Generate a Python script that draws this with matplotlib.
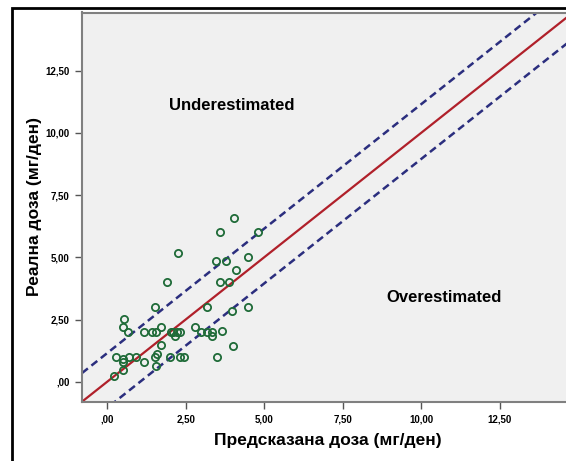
import matplotlib.pyplot as plt
from matplotlib.patches import Rectangle

plt.rcParams['font.family'] = ['Liberation Sans', 'DejaVu Sans']

predicted = [4.03, 3.60, 4.80, 2.26, 3.47, 3.78, 4.47, 4.09, 1.92, 3.60, 3.88,
             1.52, 3.18, 4.50, 3.97, 0.53, 0.49, 0.65, 1.16, 1.42, 1.56, 1.72,
             2.03, 2.11, 2.16, 2.22, 2.32, 2.79, 2.98, 3.18, 3.35, 3.35, 3.65,
             1.70, 4.00, 0.28, 0.50, 0.50, 0.70, 0.91, 1.16, 1.52, 1.59, 1.57,
             2.01, 2.32, 2.45, 3.50, 0.50, 0.21]
real = [6.59, 6.01, 6.01, 5.16, 4.86, 4.86, 5.01, 4.50, 4.00, 4.00, 4.00,
        3.00, 3.00, 3.00, 2.85, 2.51, 2.20, 1.98, 1.98, 1.98, 1.98, 2.20,
        1.98, 1.98, 1.84, 1.98, 1.98, 2.20, 1.98, 1.98, 1.98, 1.84, 2.05,
        1.49, 1.42, 0.98, 0.91, 0.78, 0.98, 0.98, 0.78, 0.98, 1.12, 0.64,
        0.98, 0.98, 0.98, 0.98, 0.46, 0.23]

ticks = [0, 2.5, 5, 7.5, 10, 12.5]
tick_labels = [',00', '2,50', '5,00', '7,50', '10,00', '12,50']
upper_offset = 1.15
lower_offset = -1.05
lims = [-0.8, 14.83]

fig = plt.figure(figsize=(5.66, 4.61), dpi=100)
# outer frame (cropped on the right and bottom)
fig.patches.append(Rectangle((12 / 566, -0.1), 1.2, (461 - 8) / 461 + 0.1,
                             transform=fig.transFigure, fill=False,
                             edgecolor='black', linewidth=2.0))

ax = fig.add_axes([82 / 566, 59.3 / 461, 491 / 566, 389.2 / 461])
ax.set_facecolor('#f0f0f0')

ax.plot(lims, lims, color='#b0202a', linewidth=1.6, zorder=2)
ax.plot(lims, [v + upper_offset for v in lims], color='#2b2e7e',
        linewidth=1.8, linestyle=(0, (3, 1.8)), zorder=2)
ax.plot(lims, [v + lower_offset for v in lims], color='#2b2e7e',
        linewidth=1.8, linestyle=(0, (3, 1.8)), zorder=2)

ax.plot(predicted, real, 'o', markerfacecolor='none', markeredgecolor='#1f6b38',
        markersize=5.2, markeredgewidth=1.3, zorder=3)

ax.set_xlim(lims)
ax.set_ylim(lims)
ax.set_xticks(ticks)
ax.set_xticklabels(tick_labels)
ax.set_yticks(ticks)
ax.set_yticklabels(tick_labels)
ax.tick_params(direction='out', length=5, width=1, color='#555555',
               labelsize=7, pad=4)
for lab in ax.get_xticklabels() + ax.get_yticklabels():
    lab.set_fontweight('bold')
for s in ax.spines.values():
    s.set_color('#808080')
    s.set_linewidth(1.5)

ax.text(232 / 566, (461 - 105) / 461, 'Underestimated', transform=fig.transFigure,
        ha='center', va='center', fontsize=12, fontweight='bold')
ax.text(444 / 566, (461 - 298) / 461, 'Overestimated', transform=fig.transFigure,
        ha='center', va='center', fontsize=12, fontweight='bold')

fig.text(328 / 566, (461 - 440) / 461, 'Предсказана доза (мг/ден)',
         ha='center', va='center', fontsize=12.5, fontweight='bold')
fig.text(35 / 566, (461 - 207) / 461, 'Реална доза (мг/ден)', rotation=90,
         ha='center', va='center', fontsize=12.5, fontweight='bold')

fig.savefig('out.png', dpi=100)
